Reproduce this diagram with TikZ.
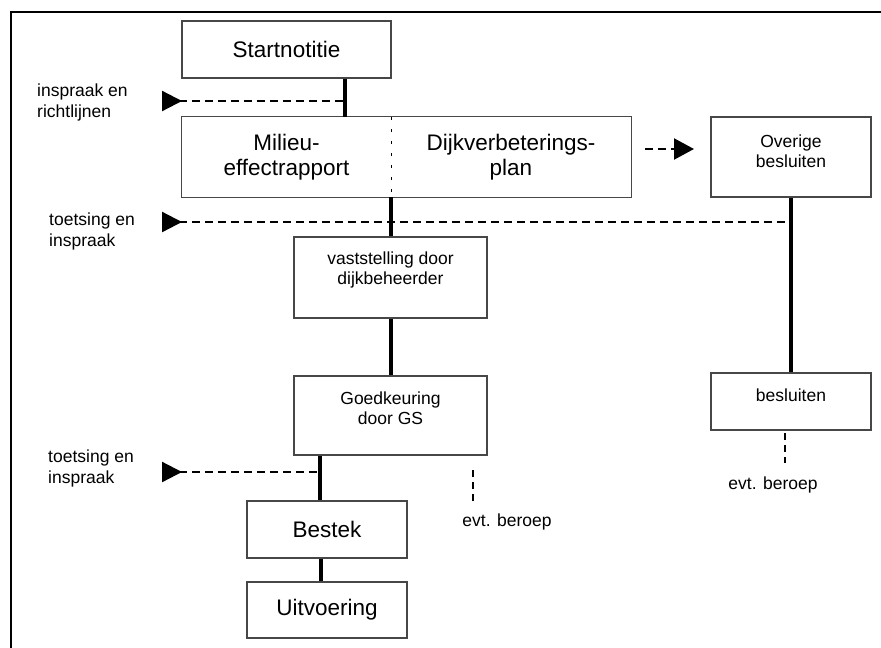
\documentclass[tikz,border=0pt]{standalone}
\usepackage{fontspec}
\setmainfont{Liberation Sans}
\usetikzlibrary{arrows.meta}
\begin{document}
\begin{tikzpicture}[x=1pt,y=-1pt,
  box/.style={draw=black!72,line width=1.2pt,rectangle,inner sep=0pt},
  nobox/.style={rectangle,inner sep=0pt},
  bigtxt/.style={font=\fontsize{22.5}{25.5}\selectfont,align=center,inner sep=0pt},
  smalltxt/.style={font=\fontsize{17.5}{20.5}\selectfont,align=center,inner sep=0pt},
  sidetxt/.style={font=\fontsize{17.5}{20.5}\selectfont,align=left,inner sep=0pt,anchor=north west},
  flow/.style={line width=4pt},
  dsh/.style={line width=2.3pt,dash pattern=on 8pt off 5pt},
  vdsh/.style={line width=2.2pt,dash pattern=on 7pt off 5pt},
  divider/.style={line width=1pt,dash pattern=on 3pt off 9pt},
  inarrow/.style={dsh,{Triangle[length=20pt,width=20pt,reversed]}-},
  outarrow/.style={dsh,-{Triangle[length=20pt,width=21pt]}}
]
\useasboundingbox (0,0) rectangle (881,648);
% frame
\draw[line width=2pt] (11,648) -- (11,12) -- (881,12);

% boxes
\node[box,minimum width=209pt,minimum height=57pt,bigtxt] (start) at (286.5,49.5) {Startnotitie};
\node[nobox,minimum width=209pt,minimum height=80pt,bigtxt] (mer) at (286.5,157) {Milieu-\\effectrapport};
\node[nobox,minimum width=240pt,minimum height=80pt,bigtxt] (dvp) at (511,157) {Dijkverbeterings-\\plan};
\draw[box] (mer.north west) rectangle (dvp.south east);
\draw[divider] (mer.north east) -- (mer.south east);
\node[box,minimum width=160pt,minimum height=80pt] (ovb) at (791,157) {};
\node[smalltxt] (ovbt) at (791,151) {Overige\\besluiten};
\node[box,minimum width=193pt,minimum height=81pt] (vast) at (390.5,277.5) {};
\node[smalltxt] (vastt) at (390.5,270) {vaststelling door\\dijkbeheerder};
\node[box,minimum width=193pt,minimum height=79pt] (goed) at (390.5,415.5) {};
\node[smalltxt] (goedt) at (390.5,408) {Goedkeuring\\door GS};
\node[box,minimum width=160pt,minimum height=57pt] (besl) at (791,401.5) {};
\node[smalltxt] (beslt) at (791,395) {besluiten};
\node[box,minimum width=160pt,minimum height=57pt,bigtxt] (bestek) at (327,529.5) {Bestek};
\node[box,minimum width=160pt,minimum height=56pt,bigtxt] (uitv) at (327,610) {Uitvoering};

% side labels
\node[sidetxt] (l1) at (37,84) {inspraak en\\richtlijnen};
\node[sidetxt] (l2) at (49,213) {toetsing en\\inspraak};
\node[sidetxt] (l3) at (48,450) {toetsing en\\inspraak};
\node[smalltxt] (e1) at (773,485) {evt. beroep};
\node[smalltxt] (e2) at (507,522) {evt. beroep};

% junctions
\coordinate (j1) at (345,101);
\coordinate (a1) at (162,101);
\coordinate (j2) at (792,222);
\coordinate (a2) at (162,222);
\coordinate (j3) at (320,472);
\coordinate (a3) at (162,472);
\coordinate (d1) at (645,149);
\coordinate (d2) at (694,149);
\coordinate (v1a) at (785,433);
\coordinate (v1b) at (785,463);
\coordinate (v2a) at (473,470);
\coordinate (v2b) at (473,502);
\coordinate (c4) at (321,0);

% solid flow lines
\draw[flow] (start.south -| j1) -- (mer.north -| j1);
\draw[flow] (mer.south east) -- (vast.north -| mer.south east);
\draw[flow] (vast.south) -- (goed.north);
\draw[flow] (goed.south -| j3) -- (bestek.north -| j3);
\draw[flow] (bestek.south -| c4) -- (uitv.north -| c4);
\draw[flow] (ovb.south) -- (besl.north);

% dashed arrows
\draw[inarrow] (a1) -- (j1);
\draw[inarrow] (a2) -- (j2);
\draw[inarrow] (a3) -- (j3);
\draw[outarrow] (d1) -- (d2);

% evt. beroep dashes
\draw[vdsh] (v1a) -- (v1b);
\draw[vdsh] (v2a) -- (v2b);
\end{tikzpicture}
\end{document}
